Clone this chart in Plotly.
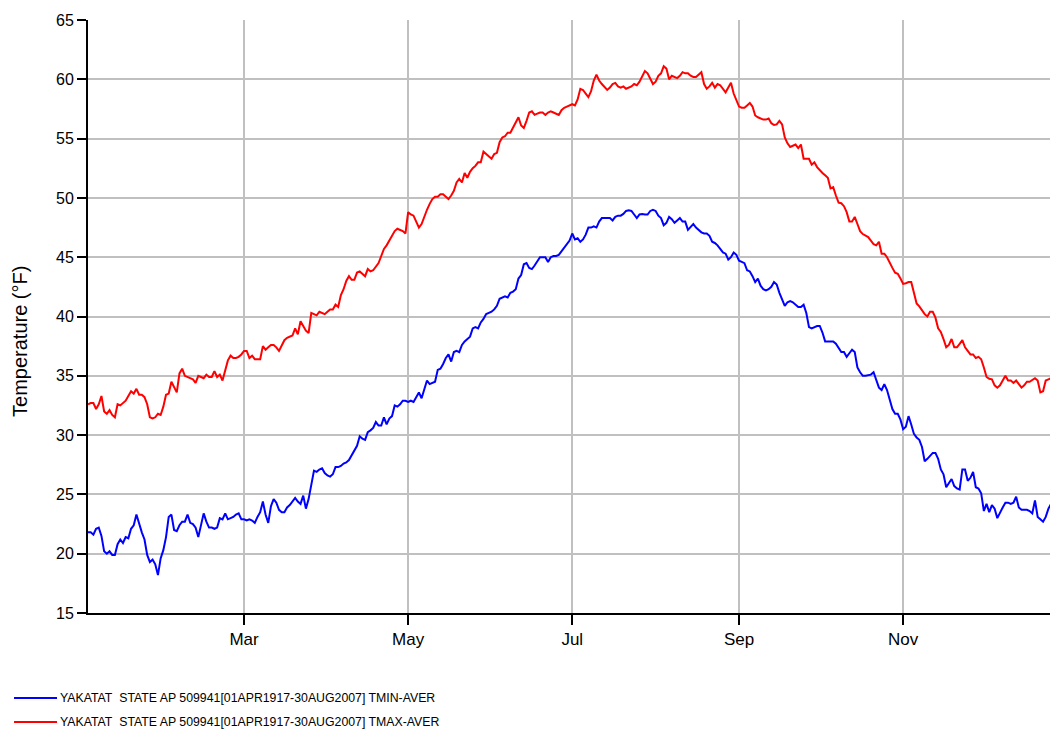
import pandas as pd
import plotly.graph_objects as go

# Daily averages, day-of-year index 1..359 (Jan 2 .. Dec 26)
start_date = "2001-01-02"

tmax = [
    32.6, 32.7, 32.7, 32.2, 32.6, 33.3, 32.0, 31.8, 32.1, 31.7,
    31.5, 32.6, 32.5, 32.7, 32.9, 33.3, 33.7, 33.5, 33.9, 33.4,
    33.4, 33.2, 32.6, 31.5, 31.4, 31.5, 31.8, 31.7, 32.4, 33.4,
    33.5, 34.5, 34.0, 33.6, 35.2, 35.6, 35.0, 34.9, 34.8, 34.7,
    34.4, 35.0, 34.9, 34.8, 35.1, 34.9, 34.9, 35.4, 34.9, 35.1,
    34.6, 35.5, 36.3, 36.7, 36.5, 36.5, 36.6, 36.8, 37.1, 37.1,
    36.5, 36.7, 36.4, 36.4, 36.4, 37.5, 37.2, 37.4, 37.6, 37.6,
    37.4, 37.1, 37.6, 38.0, 38.2, 38.3, 38.4, 39.0, 38.5, 39.6,
    39.2, 38.8, 38.6, 40.3, 40.2, 40.1, 40.4, 40.3, 40.2, 40.4,
    40.6, 40.6, 41.0, 40.8, 41.8, 42.3, 43.0, 43.4, 43.1, 43.1,
    43.7, 43.8, 43.6, 43.4, 44.0, 43.8, 43.9, 44.2, 44.5, 45.1,
    45.7, 46.0, 46.4, 46.9, 47.2, 47.4, 47.3, 47.2, 47.0, 48.8,
    48.6, 48.5, 48.0, 47.5, 47.8, 48.5, 49.0, 49.5, 49.9, 50.1,
    50.1, 50.3, 50.3, 50.1, 49.9, 50.2, 50.6, 51.3, 51.6, 51.3,
    52.1, 51.7, 52.2, 52.5, 52.7, 53.0, 53.0, 53.9, 53.7, 53.5,
    53.3, 53.7, 53.8, 54.7, 55.1, 55.2, 55.5, 55.5, 55.9, 56.3,
    56.8, 56.1, 55.9, 56.5, 57.2, 57.3, 57.0, 57.1, 57.2, 57.2,
    57.0, 57.2, 57.3, 57.2, 57.1, 57.0, 57.4, 57.6, 57.7, 57.8,
    57.9, 57.8, 58.3, 59.2, 59.1, 58.8, 58.5, 59.0, 59.9, 60.4,
    59.9, 59.6, 59.3, 59.1, 59.3, 59.6, 59.7, 59.4, 59.3, 59.4,
    59.2, 59.3, 59.4, 59.6, 59.5, 59.8, 60.3, 60.7, 60.5, 60.1,
    59.6, 59.8, 60.3, 60.5, 61.1, 60.9, 60.0, 60.3, 60.2, 60.1,
    60.3, 60.6, 60.5, 60.5, 60.3, 60.2, 60.2, 60.4, 60.6, 59.6,
    59.2, 59.4, 59.7, 59.3, 59.6, 59.5, 59.2, 58.9, 59.3, 59.7,
    58.8, 58.2, 57.7, 57.6, 57.6, 57.8, 58.0, 57.7, 56.95, 56.8,
    56.7, 56.6, 56.6, 56.7, 56.3, 56.15, 56.2, 56.5, 56.2, 55.1,
    54.6, 54.3, 54.4, 54.5, 54.2, 54.5, 53.3, 53.3, 53.3, 52.8,
    53.0, 52.6, 52.3, 52.1, 51.9, 51.7, 50.8, 50.9, 50.2, 49.6,
    49.55, 49.3, 48.8, 48.0, 48.0, 48.4, 47.8, 47.2, 46.95, 46.8,
    46.7, 46.4, 46.1, 46.0, 46.3, 45.3, 45.3, 45.0, 44.5, 44.1,
    43.7, 43.6, 43.2, 42.75, 42.8, 42.9, 42.9, 42.0, 41.1, 40.85,
    40.5, 40.2, 40.0, 40.4, 40.4, 39.9, 39.0, 38.7, 38.1, 37.4,
    37.6, 38.1, 37.4, 37.4, 37.7, 38.0, 37.4, 37.1, 36.8, 36.8,
    36.5, 36.6, 36.4, 35.7, 34.9, 34.75, 34.7, 34.2, 34.0, 34.2,
    34.6, 35.0, 34.6, 34.6, 34.4, 34.6, 34.3, 34.0, 34.2, 34.5,
    34.5, 34.65, 34.8, 34.6, 33.6, 33.7, 34.6, 34.7, 34.8,
]

tmin = [
    21.8, 21.8, 21.6, 22.1, 22.2, 21.5, 20.2, 20.0, 20.2, 19.9,
    19.9, 20.8, 21.2, 20.9, 21.4, 21.3, 22.1, 22.4, 23.3, 22.5,
    21.8, 21.2, 19.9, 19.3, 19.5, 19.1, 18.2, 19.6, 20.3, 21.4,
    23.1, 23.3, 22.0, 21.9, 22.4, 22.7, 22.7, 23.3, 22.6, 22.5,
    22.2, 21.4, 22.4, 23.4, 22.7, 22.2, 22.2, 22.1, 22.2, 23.0,
    22.9, 23.4, 22.9, 23.0, 23.1, 23.3, 23.4, 22.9, 22.9, 22.8,
    22.9, 22.8, 22.6, 23.1, 23.5, 24.4, 23.3, 22.6, 24.0, 24.6,
    24.3, 23.7, 23.5, 23.5, 23.9, 24.1, 24.4, 24.7, 24.4, 24.2,
    24.9, 23.8, 24.6, 25.8, 27.0, 26.9, 27.1, 27.2, 26.8, 26.6,
    26.5, 26.7, 27.3, 27.3, 27.4, 27.6, 27.7, 27.9, 28.3, 28.8,
    29.1, 29.9, 29.7, 29.6, 30.25, 30.4, 30.6, 31.1, 30.8, 30.8,
    31.5, 30.9, 31.4, 31.6, 32.5, 32.4, 32.6, 32.9, 32.9, 32.8,
    32.9, 32.8, 33.2, 33.6, 33.1, 33.8, 34.6, 34.3, 34.4, 34.5,
    35.5, 35.6, 36.0, 36.5, 36.8, 36.2, 37.0, 37.1, 37.0, 37.6,
    37.9, 38.1, 38.3, 39.0, 39.1, 39.0, 39.5, 39.8, 40.2, 40.3,
    40.4, 40.6, 40.9, 41.5, 41.6, 41.7, 41.6, 42.0, 42.1, 42.3,
    43.2, 43.5, 44.4, 44.5, 44.1, 44.0, 44.3, 44.7, 45.0, 45.0,
    45.0, 44.6, 45.0, 45.1, 45.1, 45.2, 45.5, 45.7, 46.0, 46.4,
    47.0, 46.5, 46.6, 46.3, 46.5, 46.9, 47.5, 47.5, 47.6, 47.5,
    48.0, 48.3, 48.3, 48.3, 48.3, 48.1, 48.4, 48.5, 48.5, 48.65,
    48.9, 48.95, 48.9, 48.6, 48.3, 48.6, 48.65, 48.6, 48.6, 48.9,
    49.0, 48.9, 48.5, 48.3, 47.7, 47.9, 48.4, 48.2, 47.9, 48.1,
    48.3, 48.0, 48.0, 47.3, 47.6, 47.8, 47.5, 47.3, 47.1, 47.0,
    47.0, 46.8, 46.3, 46.2, 46.0, 45.7, 45.4, 45.3, 44.8, 45.0,
    45.4, 45.2, 44.7, 44.6, 44.5, 43.9, 43.8, 43.4, 42.9, 43.2,
    42.6, 42.3, 42.2, 42.3, 42.5, 42.9, 42.7, 42.0, 41.4, 40.9,
    41.2, 41.3, 41.2, 41.0, 40.8, 40.8, 41.0, 40.3, 39.1, 39.0,
    39.1, 39.2, 39.2, 38.65, 37.9, 37.9, 37.95, 37.9, 37.7, 37.3,
    37.0, 37.0, 36.6, 36.9, 37.2, 37.0, 35.7, 35.3, 35.0, 35.0,
    35.05, 35.1, 35.3, 34.6, 34.0, 33.8, 34.3, 33.8, 32.9, 32.2,
    31.8, 31.8, 31.3, 30.5, 30.7, 31.6, 30.9, 30.1, 29.8, 29.6,
    29.0, 27.8, 28.0, 28.3, 28.5, 28.5, 28.0, 27.1, 26.7, 25.6,
    25.9, 26.3, 25.7, 25.5, 25.4, 27.1, 27.1, 26.15, 26.4, 26.9,
    25.6, 25.5, 25.1, 23.6, 24.2, 23.5, 24.1, 23.8, 23.0, 23.5,
    23.9, 24.3, 24.3, 24.2, 24.3, 24.8, 23.9, 23.7, 23.7, 23.7,
    23.6, 23.4, 24.5, 23.1, 22.9, 22.7, 23.1, 23.8, 24.2,
]

tick_dates = ["2001-03-01", "2001-05-01", "2001-07-01", "2001-09-01", "2001-11-01"]
tick_labels = ["Mar", "May", "Jul", "Sep", "Nov"]
y_ticks = list(range(15, 70, 5))

series_names = [
    "YAKATAT\u00a0 STATE AP 509941[01APR1917-30AUG2007] TMIN-AVER",
    "YAKATAT\u00a0 STATE AP 509941[01APR1917-30AUG2007] TMAX-AVER",
]
series_colors = ["#0000ff", "#ff0000"]

dates = pd.date_range(start_date, periods=len(tmax), freq="D")
dates_min = pd.date_range(start_date, periods=len(tmin), freq="D")

fig = go.Figure()
fig.add_trace(go.Scatter(x=dates_min, y=tmin, mode="lines", name=series_names[0],
                         line=dict(color=series_colors[0], width=2), showlegend=False))
fig.add_trace(go.Scatter(x=dates, y=tmax, mode="lines", name=series_names[1],
                         line=dict(color=series_colors[1], width=2), showlegend=False))

# Legend drawn below the plot (long line samples like the original)
legend_y = [-0.1433, -0.1838]
for name, color, ly in zip(series_names, series_colors, legend_y):
    fig.add_shape(type="line", xref="paper", yref="paper",
                  x0=-0.0769, x1=-0.0322, y0=ly, y1=ly,
                  line=dict(color=color, width=2))
    fig.add_annotation(xref="paper", yref="paper", x=-0.031, y=ly,
                       xanchor="left", yanchor="middle", showarrow=False,
                       text=name, font=dict(size=12.3, family="Liberation Sans, Arial"))

# Y axis title
fig.add_annotation(xref="paper", yref="paper", x=-0.0707, y=0.4587,
                   xanchor="center", yanchor="middle", showarrow=False,
                   textangle=-90, text="Temperature (°F)",
                   font=dict(size=20, family="Liberation Sans, Arial"))

fig.update_layout(
    width=1050, height=730,
    margin=dict(l=88, r=0, t=20, b=117, autoexpand=False),
    paper_bgcolor="white", plot_bgcolor="white",
    font=dict(family="Liberation Sans, Arial, sans-serif", color="black", size=16),
    showlegend=False,
    xaxis=dict(
        type="date", automargin=False,
        range=["2001-01-02 00:00", "2001-12-25 14:00"],
        tickmode="array", tickvals=tick_dates, ticktext=tick_labels,
        showgrid=True, gridcolor="#c0c0c0", gridwidth=2,
        showline=True, linecolor="black", linewidth=2,
        ticks="outside", ticklen=10, tickwidth=2, tickcolor="black",
        zeroline=False, tickfont=dict(size=17),
    ),
    yaxis=dict(
        range=[15, 65], tickmode="array", tickvals=y_ticks, automargin=False,
        showgrid=True, gridcolor="#c0c0c0", gridwidth=2,
        showline=True, linecolor="black", linewidth=2,
        ticks="outside", ticklen=9, tickwidth=2, tickcolor="black",
        zeroline=False, tickfont=dict(size=16),
    ),
)

fig.write_html(
    "out.html",
    config={"displayModeBar": False},
    post_script="document.body.style.margin='0';document.body.style.overflow='hidden';",
)
